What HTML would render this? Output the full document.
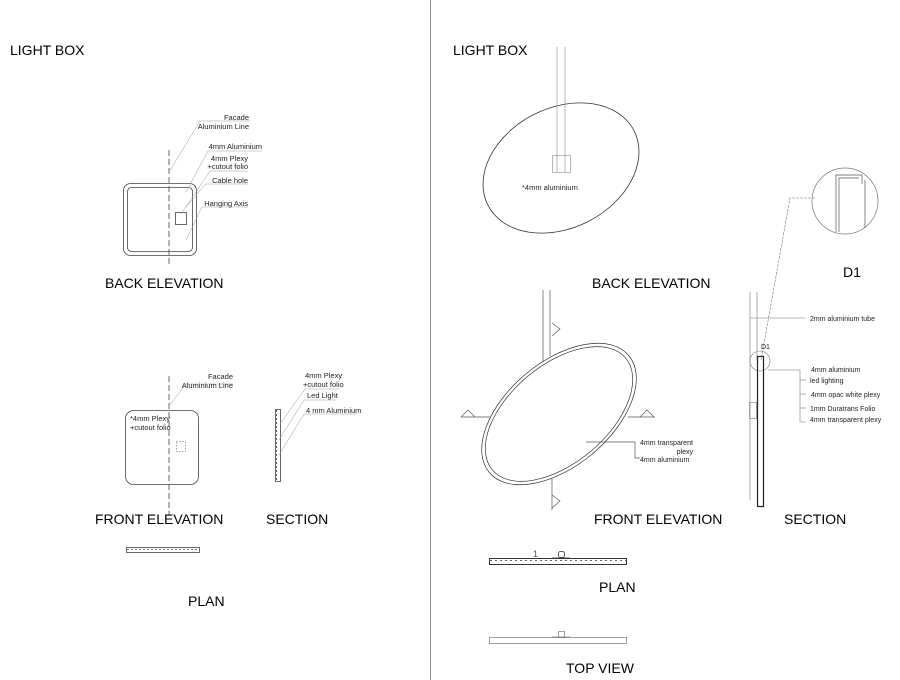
<!DOCTYPE html>
<html><head><meta charset="utf-8"><style>
html,body{margin:0;padding:0;background:#fff}
svg{display:block;font-family:"Liberation Sans",sans-serif}
</style></head><body>
<svg width="900" height="680" viewBox="0 0 900 680" xmlns="http://www.w3.org/2000/svg">
<rect width="900" height="680" fill="#fff"/>
<line x1="430.5" y1="0" x2="430.5" y2="680" stroke="#888" stroke-width="1"/>

<!-- LEFT -->
<text x="10" y="55" font-size="14">LIGHT BOX</text>
<g fill="none" stroke="#444" stroke-width="0.8">
<rect x="123.5" y="183.5" width="73" height="72" rx="7"/>
<rect x="127.5" y="187.5" width="65" height="64" rx="4"/>
<rect x="175.5" y="212.5" width="11" height="12"/>
<line x1="169" y1="150" x2="169" y2="266" stroke-dasharray="6,3"/>
</g>
<g fill="none" stroke="#999" stroke-width="0.5">
<polyline points="169,172 200,121 250,121"/>
<polyline points="186,192 208,151 262,151"/>
<polyline points="181,214 210,171 248,171"/>
<polyline points="186,207 206,184 248,184"/>
<polyline points="186,240 202,207 248,207"/>
</g>
<g font-size="7.5" fill="#222">
<text x="249" y="120" text-anchor="end">Facade</text>
<text x="249" y="129" text-anchor="end">Aluminium Line</text>
<text x="262" y="149" text-anchor="end">4mm Aluminium</text>
<text x="248" y="161" text-anchor="end">4mm Plexy</text>
<text x="248" y="169" text-anchor="end">+cutout folio</text>
<text x="248" y="183" text-anchor="end">Cable hole</text>
<text x="248" y="206" text-anchor="end">Hanging Axis</text>
</g>
<text x="105" y="288" font-size="14">BACK ELEVATION</text>

<g fill="none" stroke="#444" stroke-width="0.8">
<rect x="125.5" y="410.5" width="73" height="74" rx="8"/>
<rect x="176.5" y="441.5" width="9" height="10" stroke-dasharray="1.5,1.5" stroke="#888"/>
<line x1="169" y1="376" x2="169" y2="515" stroke-dasharray="6,3"/>
<rect x="275.5" y="409.5" width="5" height="72"/>
<line x1="276.5" y1="410" x2="276.5" y2="481" stroke-dasharray="2,2"/>
<rect x="126.5" y="547.5" width="73" height="5"/>
<line x1="127" y1="549.5" x2="199" y2="549.5" stroke-dasharray="2,2"/>
</g>
<g fill="none" stroke="#999" stroke-width="0.5">
<polyline points="169,406 186,384 233,384"/>
<polyline points="280,424 305,389 339,389"/>
<polyline points="279,440 304,400 337,400"/>
<polyline points="279,455 304,414 357,414"/>
</g>
<g font-size="7.5" fill="#222">
<text x="233" y="379" text-anchor="end">Facade</text>
<text x="233" y="388" text-anchor="end">Aluminium Line</text>
<text x="130" y="421">*4mm Plexy</text>
<text x="130" y="430">+cutout folio</text>
<text x="305" y="378">4mm Plexy</text>
<text x="303" y="387">+cutout folio</text>
<text x="307" y="398">Led Light</text>
<text x="306" y="413">4 mm Aluminium</text>
</g>
<text x="95" y="524" font-size="14">FRONT ELEVATION</text>
<text x="266" y="524" font-size="14">SECTION</text>
<text x="188" y="606" font-size="14">PLAN</text>

<!-- RIGHT -->
<text x="453" y="55" font-size="14">LIGHT BOX</text>
<g fill="none" stroke="#333" stroke-width="0.8">
<ellipse cx="561" cy="168" rx="82" ry="60" transform="rotate(-27 561 168)"/>
</g>
<g fill="none" stroke="#888" stroke-width="0.6">
<line x1="557" y1="47" x2="557" y2="172"/>
<line x1="565" y1="47" x2="565" y2="172"/>
<rect x="552.5" y="155.5" width="18" height="17"/>
</g>
<text x="522" y="190" font-size="7.5" fill="#222">*4mm aluminium</text>
<text x="592" y="288" font-size="14">BACK ELEVATION</text>

<circle cx="845" cy="201" r="33" fill="none" stroke="#777" stroke-width="0.7"/>
<g fill="none" stroke="#555" stroke-width="0.7">
<polyline points="836,232 836,175 862,175 862,184"/>
<polyline points="839,232 839,178 859,178"/>
<line x1="865" y1="180" x2="865" y2="228"/>
</g>
<polyline points="815,198 790,198 761,360" fill="none" stroke="#777" stroke-width="0.6" stroke-dasharray="3,1"/>
<text x="843" y="277" font-size="14">D1</text>

<g fill="none" stroke="#777" stroke-width="0.6">
<line x1="750" y1="292" x2="750" y2="500"/>
<line x1="757" y1="292" x2="757" y2="360"/>
<line x1="750" y1="318" x2="805" y2="318"/>
<circle cx="760" cy="361" r="10"/>
<rect x="749.5" y="402.5" width="7" height="16"/>
<polyline points="768,370 800,370 800,422 806,422"/>
<line x1="800" y1="380" x2="806" y2="380"/>
<line x1="800" y1="394" x2="806" y2="394"/>
<line x1="800" y1="408" x2="806" y2="408"/>
</g>
<rect x="757.5" y="356.5" width="6" height="150" fill="none" stroke="#222" stroke-width="1.2"/>
<g font-size="7" fill="#222">
<text x="810" y="321">2mm aluminium tube</text>
<text x="761" y="349">D1</text>
<text x="811" y="372">4mm aluminium</text>
<text x="810" y="383">led lighting</text>
<text x="811" y="397">4mm opac white plexy</text>
<text x="810" y="411">1mm Duratrans Folio</text>
<text x="810" y="422">4mm transparent plexy</text>
</g>
<text x="784" y="524" font-size="14">SECTION</text>

<g fill="none" stroke="#555" stroke-width="0.7">
<line x1="543" y1="290" x2="543" y2="362"/>
<line x1="550" y1="290" x2="550" y2="356"/>
<line x1="552" y1="478" x2="552" y2="510"/>
<ellipse cx="559" cy="414" rx="91" ry="52" transform="rotate(-40 559 414)" stroke="#333"/>
<ellipse cx="559" cy="414" rx="87" ry="49" transform="rotate(-40 559 414)" stroke="#333"/>
<line x1="461" y1="417" x2="490" y2="417"/>
<line x1="628" y1="417" x2="655" y2="417"/>
<polyline points="461,417 468,410 475,417"/>
<polyline points="640,417 647,410 654,417"/>
<polyline points="552,323 560,329 552,336"/>
<polyline points="552,495 560,501 552,508"/>
<polyline points="586,442 635,442 635,458 640,458"/>
</g>
<g font-size="7" fill="#222">
<text x="640" y="445">4mm transparent</text>
<text x="693" y="454" text-anchor="end">plexy</text>
<text x="640" y="462">4mm aluminium</text>
</g>
<text x="594" y="524" font-size="14">FRONT ELEVATION</text>

<g fill="none" stroke="#333" stroke-width="0.8">
<rect x="489.5" y="558.5" width="137" height="6" stroke-width="1"/>
<line x1="490" y1="560.5" x2="626" y2="560.5" stroke-dasharray="2,3"/>
<rect x="558.5" y="551.5" width="6" height="6" rx="2"/>
<line x1="552" y1="558" x2="570" y2="558"/>
</g>
<text x="533" y="557" font-size="9" fill="#555">1</text>
<text x="599" y="592" font-size="14">PLAN</text>
<g fill="none" stroke="#777" stroke-width="0.7">
<rect x="489.5" y="637.5" width="137" height="6"/>
<rect x="558.5" y="631.5" width="6" height="6"/>
<line x1="552" y1="637" x2="570" y2="637"/>
</g>
<text x="566" y="673" font-size="14">TOP VIEW</text>
</svg>
</body></html>
